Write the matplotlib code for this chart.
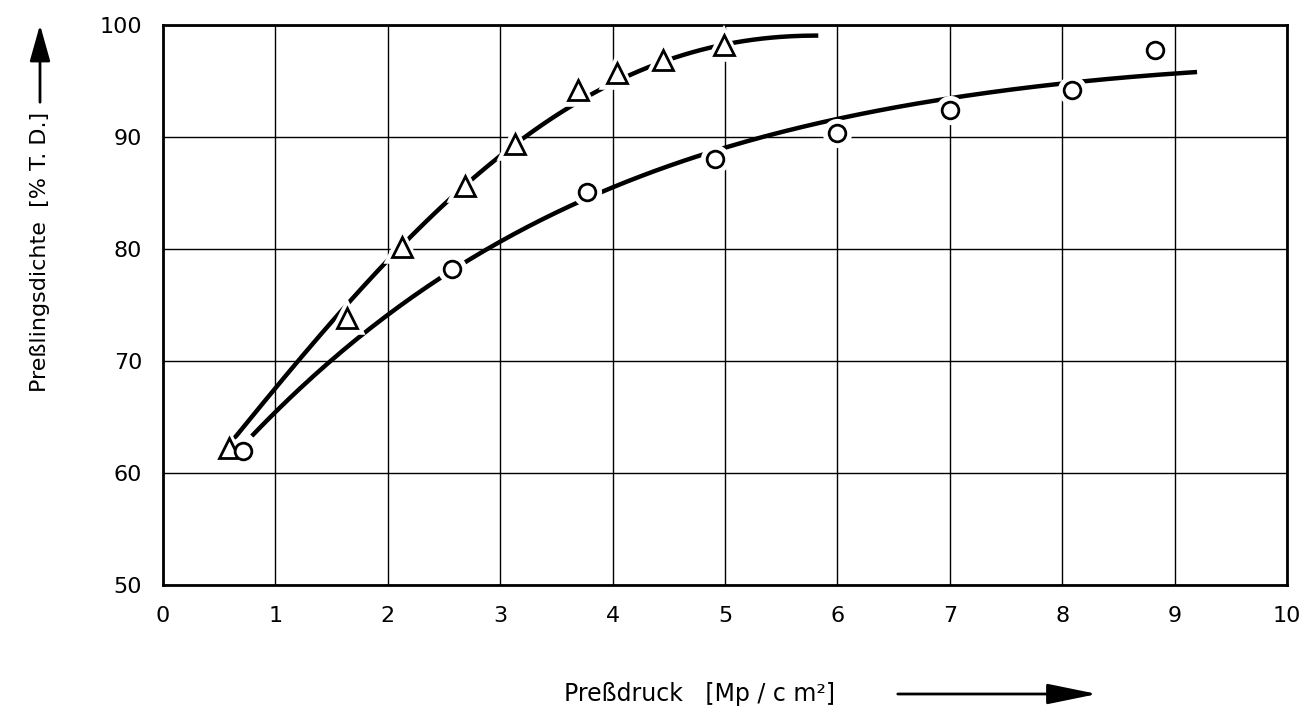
import numpy as np
import matplotlib.pyplot as plt
from matplotlib.patches import FancyArrowPatch

tri_x = [0.59, 1.64, 2.13, 2.69, 3.13, 3.69, 4.04, 4.45, 4.99]
tri_y = [62.2, 73.8, 80.2, 85.6, 89.4, 94.2, 95.7, 96.9, 98.2]
circ_x = [0.71, 2.57, 3.77, 4.91, 6.0, 7.0, 8.09, 8.83]
circ_y = [62.0, 78.2, 85.1, 88.0, 90.4, 92.4, 94.2, 97.8]

# hand-drawn trend curves
tri_curve_x = [0.63, 1, 2, 3, 4, 4.5, 5, 5.5, 5.83]
tri_curve_y = [62.8, 68.0, 78.8, 88.1, 95.3, 96.8, 98.1, 98.8, 99.2]
circ_curve_x = [0.79, 1, 2, 3, 4, 5, 6, 7, 8, 9.2]
circ_curve_y = [62.7, 66.2, 74.1, 80.2, 85.9, 89.0, 91.6, 93.4, 94.8, 95.8]

xticks = np.arange(0, 11, 1)
yticks = np.arange(50, 101, 10)

fig = plt.figure(figsize=(13.03, 7.14), dpi=100)
ax = fig.add_axes([0.1251, 0.1807, 0.8626, 0.7843])
ax.set_xlim(0, 10)
ax.set_ylim(50, 100)
ax.set_xticks(xticks)
ax.set_yticks(yticks)
ax.grid(True, color='black', lw=1.0)
ax.tick_params(length=0, labelsize=16, pad=15)
for s in ax.spines.values():
    s.set_linewidth(2)

# curves drawn as smooth fits through the read points
m1 = np.poly1d(np.polyfit(tri_curve_x, tri_curve_y, 4))
l1 = np.linspace(tri_curve_x[0], tri_curve_x[-1], 200)
ax.plot(l1, m1(l1), color='black', lw=3.2, solid_capstyle='butt', zorder=3)
m2 = np.poly1d(np.polyfit(circ_curve_x, circ_curve_y, 4))
l2 = np.linspace(circ_curve_x[0], circ_curve_x[-1], 200)
ax.plot(l2, m2(l2), color='black', lw=3.2, solid_capstyle='butt', zorder=3)

# white halos so the lines break around the markers
ax.plot(tri_x, tri_y, ls='none', marker='^', ms=20, mfc='white', mec='white', mew=4, zorder=4)
ax.plot(circ_x, circ_y, ls='none', marker='o', ms=17, mfc='white', mec='white', mew=4, zorder=4)
ax.plot(tri_x, tri_y, ls='none', marker='^', ms=14, mfc='white', mec='black', mew=2, zorder=5, clip_on=False)
ax.plot(circ_x, circ_y, ls='none', marker='o', ms=12, mfc='white', mec='black', mew=2, zorder=5, clip_on=False)

# axis labels with arrows
fig.text(40 / 1303, 1 - 252 / 714, 'Preßlingsdichte  [% T. D.]', rotation=90,
         ha='center', va='center', fontsize=16)
fig.patches.append(FancyArrowPatch(
    (40 / 1303, 1 - 105 / 714), (40 / 1303, 1 - 22 / 714), transform=fig.transFigure,
    arrowstyle='-|>,head_length=1.6,head_width=0.45', mutation_scale=14, color='black', lw=2))

fig.text(700 / 1303, 1 - 694 / 714, 'Preßdruck   [Mp / c m²]', ha='center', va='center', fontsize=17)
fig.patches.append(FancyArrowPatch(
    (895 / 1303, 1 - 694 / 714), (1100 / 1303, 1 - 694 / 714), transform=fig.transFigure,
    arrowstyle='-|>,head_length=2.2,head_width=0.45', mutation_scale=14, color='black', lw=2))

fig.savefig('out.png', dpi=100)
